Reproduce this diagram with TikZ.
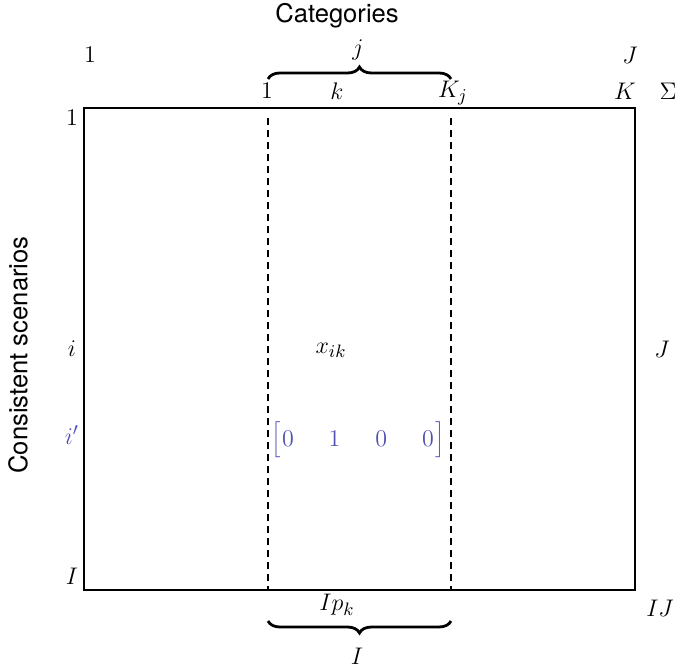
\documentclass[tikz,border=0pt]{standalone}
\usepackage{fontspec}
\setsansfont{TeX Gyre Heros}
\usetikzlibrary{decorations.pathreplacing}
\definecolor{matblue}{RGB}{80,80,180}
\begin{document}
\begin{tikzpicture}[x=0.5pt,y=-0.5pt,
  font=\fontsize{13}{15}\selectfont,
  lab/.style={inner sep=0pt, anchor=center},
  frame/.style={draw, line width=0.7pt},
  divider/.style={draw, dashed, line width=0.6pt, dash pattern=on 3.5pt off 2.5pt},
  bracestyle/.style={decorate, decoration={brace, amplitude=6pt}, line width=1.4pt},
  title/.style={font=\sffamily\fontsize{12.8}{15}\selectfont, inner sep=0pt}]
\useasboundingbox (0,0) rectangle (686,669);
% frame
\draw[frame] (84,108) rectangle (635,590);
% dividers
\coordinate (d1t) at (268,118);
\coordinate (d1b) at (268,590);
\coordinate (d2t) at (451,118);
\coordinate (d2b) at (451,590);
\draw[divider] (d1t) -- (d1b);
\draw[divider] (d2t) -- (d2b);
% titles
\node[title] (cat) at (337,16) {Categories};
\node[title, rotate=90] (cons) at (18,355) {Consistent scenarios};
% top labels
\node[lab] (c1) at (90,55) {$1$};
\node[lab] (cJ) at (630,55) {$J$};
\node[lab] (cj) at (358,50) {$j$};
\node[lab] (k1) at (267,91) {$1$};
\node[lab] (kk) at (337,91) {$k$};
\node[lab] (kKj) at (453,93) {$K_j$};
\node[lab] (kK) at (625,91) {$K$};
\node[lab] (ksig) at (668,91) {$\Sigma$};
% top brace
\coordinate (tbL) at (268,79);
\coordinate (tbR) at (451,79);
\draw[bracestyle] (tbL) -- (tbR);
% left labels
\node[lab] (r1) at (72,118) {$1$};
\node[lab] (ri) at (72,349) {$i$};
\node[lab, text=matblue] (rip) at (72,435) {$i'$};
\node[lab] (rI) at (72,576) {$I$};
% right labels
\node[lab] (rJ) at (662,349) {$J$};
\node[lab] (rIJ) at (660,608) {$IJ$};
% cell
\node[lab] (xik) at (331,350) {$x_{ik}$};
\node[lab, text=matblue] (vec) at (358,440) {$\Bigl[\mkern1mu 0\hspace{17.5pt}1\hspace{17.5pt}0\hspace{17.5pt}0\mkern1mu\Bigr]$};
% bottom
\node[lab] (ipk) at (337,605) {$Ip_k$};
\coordinate (bbL) at (268,621);
\coordinate (bbR) at (451,621);
\draw[bracestyle] (bbR) -- (bbL);
\node[lab] (bI) at (357,656) {$I$};
\end{tikzpicture}
\end{document}
